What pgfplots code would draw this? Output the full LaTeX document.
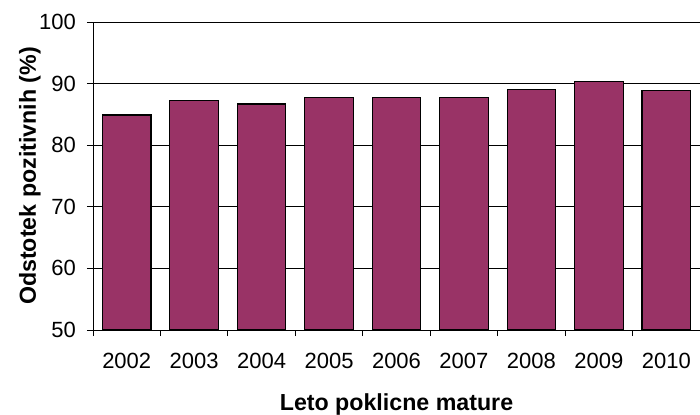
\documentclass[border=0pt]{standalone}
\usepackage{pgfplots}
\pgfplotsset{compat=1.18}
\usepackage{fontspec}
\setmainfont{Liberation Sans}
\definecolor{plum}{HTML}{993366}
\begin{document}
\begin{tikzpicture}
\begin{axis}[
  name=ax,
  scale only axis,
  width=607bp, height=308bp,
  xmin=-0.5, xmax=8.5,
  ymin=50, ymax=100,
  ytick={50,60,...,100},
  xtick={0,...,8},
  xticklabels={2002,2003,2004,2005,2006,2007,2008,2009,2010},
  minor xtick={-0.5,0.5,...,8.5},
  axis x line*=bottom,
  axis y line*=left,
  tick align=outside,
  xtick pos=bottom, ytick pos=left,
  major tick length=6bp,
  minor tick length=6bp,
  x tick style={draw=none},
  minor x tick style={draw=black, line width=0.8bp},
  y tick style={black, line width=0.8bp},
  axis line style={black, line width=0.9bp},
  ymajorgrids,
  major grid style={black, line width=0.9bp},
  /pgf/number format/assume math mode=true,
  ticklabel style={font=\fontsize{22bp}{26bp}\selectfont},
  xticklabel style={anchor=base, yshift=-32bp, inner sep=0pt},
  yticklabel style={anchor=east, xshift=-11bp, inner sep=0pt},
  xlabel={Leto poklicne mature},
  ylabel={Odstotek pozitivnih (\%)},
  xlabel style={font=\bfseries\fontsize{23.2bp}{27bp}\selectfont, at={(axis description cs:0.5,0)}, anchor=base, yshift=-80bp},
  ylabel style={font=\bfseries\fontsize{23.2bp}{27bp}\selectfont, at={(axis description cs:-0.1038,0.5)}, anchor=center, rotate=0},
  ybar,
  bar width=0.72,
]
\addplot[fill=plum, draw=black, line width=1.2bp] coordinates {
 (0,84.9) (1,87.3) (2,86.7) (3,87.7) (4,87.7) (5,87.7) (6,89.1) (7,90.4) (8,88.9)
};
\end{axis}
\pgfresetboundingbox
\path[use as bounding box] ([shift={(-93bp,-85bp)}]ax.south west) rectangle ([shift={(0bp,22bp)}]ax.north east);
\end{tikzpicture}
\end{document}
